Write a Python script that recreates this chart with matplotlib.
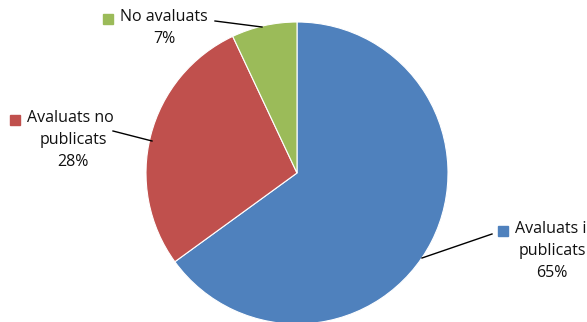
import matplotlib
matplotlib.use('Agg')
import matplotlib.pyplot as plt

# Chart data
labels = ['Avaluats i\npublicats', 'No avaluats', 'Avaluats no\npublicats']
values = [65, 7, 28]
colors = ['#4F81BD', '#9BBB59', '#C0504D']

# order drawn clockwise from 12 o'clock: blue, red, green
order = [0, 2, 1]

W, H = 587, 322
fig = plt.figure(figsize=(W / 100, H / 100), dpi=100)
ax = fig.add_axes([0, 0, 1, 1])

cx, cy, r = 297, H - 173, 151
ax.pie([values[i] for i in order], colors=[colors[i] for i in order],
       startangle=90, counterclock=False, center=(cx, cy), radius=r,
       wedgeprops=dict(edgecolor='white', linewidth=0.8), frame=True)
ax.set_xlim(0, W)
ax.set_ylim(0, H)
ax.set_aspect('equal')
ax.axis('off')

plt.rcParams['font.family'] = ['Open Sans', 'DejaVu Sans']

# label layout: marker x, first line y, text centre x, leader line
layout = {
    0: dict(mx=503, tx=552, ty=229, line=[(492, 234), (422, 258)]),
    1: dict(mx=108, tx=164, ty=17, line=[(215, 21), (262, 27)]),
    2: dict(mx=15, tx=73, ty=118, line=[(113, 131), (152, 141)]),
}

for i, lab in enumerate(labels):
    L = layout[i]
    lines = lab.split('\n') + [f'{values[i]}%']
    for k, s in enumerate(lines):
        y = H - (L['ty'] + k * 22)
        if k == 0:
            ax.text(L['mx'] + 12, y, s, ha='left', va='center', fontsize=11.5, color='#111111')
        else:
            ax.text(L['tx'], y, s, ha='center', va='center', fontsize=11.5, color='#111111')
    ax.plot([L['mx']], [H - L['ty'] - 2], marker='s', markersize=7, color=colors[i], lw=0)
    (x0, y0), (x1, y1) = L['line']
    ax.plot([x0, x1], [H - y0, H - y1], color='black', lw=1)

fig.savefig('out.png', dpi=100)
